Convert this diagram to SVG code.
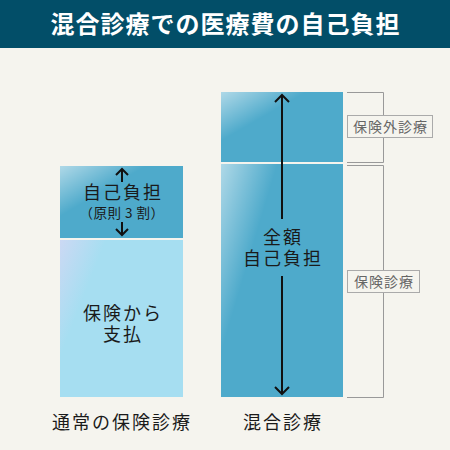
<svg xmlns="http://www.w3.org/2000/svg" width="450" height="450" viewBox="0 0 450 450">
<defs>
<style>
text{font-family:"Noto Sans CJK JP","Noto Sans",sans-serif;fill:#1a1a1a;text-anchor:middle}
.t{font-size:18px;letter-spacing:2px}
.s{font-size:13.5px;letter-spacing:0.5px}
.g{font-size:14px;fill:#666;letter-spacing:1px}
.br{fill:none;stroke:#999;stroke-width:1}
.lb{fill:#f5f4ee;stroke:#aaa;stroke-width:1}
.ar{fill:none;stroke:#111;stroke-width:2}
</style>
<linearGradient id="gl" x1="0" y1="0" x2="0.35" y2="0.35">
<stop offset="0" stop-color="#fff" stop-opacity="0.55"/>
<stop offset="1" stop-color="#fff" stop-opacity="0"/>
</linearGradient>
<linearGradient id="gl2" x1="0" y1="0" x2="0.35" y2="0.2">
<stop offset="0" stop-color="#fff" stop-opacity="0.55"/>
<stop offset="1" stop-color="#fff" stop-opacity="0"/>
</linearGradient>
<linearGradient id="gl3" x1="0" y1="0" x2="0.3" y2="0.15">
<stop offset="0" stop-color="#d0d8f4" stop-opacity="0.9"/>
<stop offset="1" stop-color="#d0d8f4" stop-opacity="0"/>
</linearGradient>
</defs>
<rect width="450" height="450" fill="#f5f4ee"/>
<g id="header">
<rect width="450" height="48" fill="#024e68"/>
<text x="225.5" y="33" style="font-size:24px;font-weight:bold;fill:#fff;letter-spacing:1px">混合診療での医療費の自己負担</text>
</g>
<g id="normal-self">
<rect x="60" y="166" width="123" height="72" fill="#4eaacb"/>
<rect x="60" y="166" width="123" height="72" fill="url(#gl)"/>
<text class="t" x="123" y="199">自己負担</text>
<text class="s" x="122" y="218">（原則 3 割）</text>
</g>
<g id="normal-insurance">
<rect x="60" y="240" width="123" height="157" fill="#a6def1"/>
<rect x="60" y="240" width="123" height="157" fill="url(#gl3)"/>
<text class="t" x="123" y="320">保険から</text>
<text class="t" x="123" y="341">支払</text>
</g>
<g id="mixed-outside">
<rect x="221" y="92" width="122" height="70" fill="#4eaacb"/>
<rect x="221" y="92" width="122" height="70" fill="url(#gl)"/>
</g>
<g id="mixed-insured">
<rect x="221" y="164" width="122" height="233" fill="#4eaacb"/>
<rect x="221" y="164" width="122" height="233" fill="url(#gl2)"/>
<text class="t" x="283" y="244">全額</text>
<text class="t" x="283" y="265">自己負担</text>
</g>
<g id="label-outside">
<path class="br" d="M347 92.5H383.5V162.5H347"/>
<rect class="lb" x="347.5" y="115.5" width="85" height="22"/>
<text class="g" x="390.5" y="132">保険外診療</text>
</g>
<g id="label-insured">
<path class="br" d="M347 165.5H383.5V397.5H347"/>
<rect class="lb" x="347.5" y="270.5" width="72" height="22"/>
<text class="g" x="384" y="287">保険診療</text>
</g>
<g id="connectors">
<path class="ar" d="M122 182V169M116 175L122 169L128 175"/>
<path class="ar" d="M122 222V235M116 229L122 235L128 229"/>
<path class="ar" d="M282 219V95M275 102L282 95L289 102"/>
<path class="ar" d="M282 276V394M275 387L282 394L289 387"/>
</g>
<g id="captions">
<text class="t" x="122" y="429">通常の保険診療</text>
<text class="t" x="283" y="429">混合診療</text>
</g>
</svg>
